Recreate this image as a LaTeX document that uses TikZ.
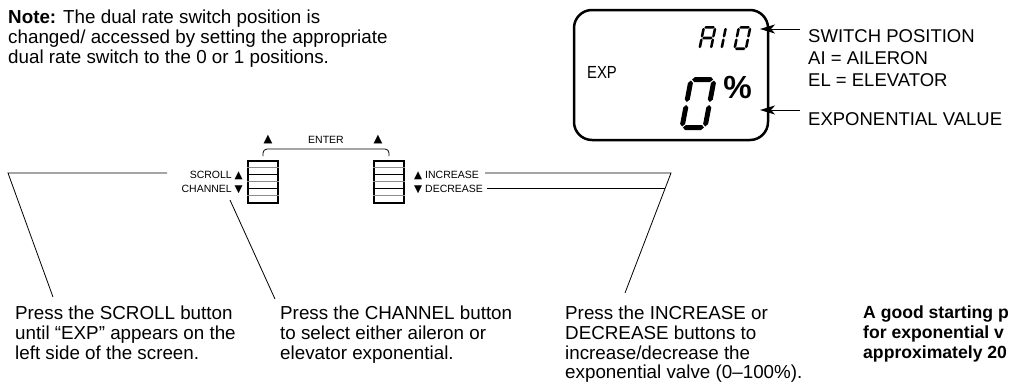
\documentclass[tikz,border=0pt]{standalone}
\usepackage{fontspec}
\usepackage{graphicx}
\setmainfont{Liberation Sans}
\newfontfamily\symfont{DejaVu Sans}
\usetikzlibrary{arrows.meta,calc}

\newcommand\segH[4]{\path[seg] (#1,#3) -- (#1+#4/2,#3-#4/2) -- (#2-#4/2,#3-#4/2) -- (#2,#3) -- (#2-#4/2,#3+#4/2) -- (#1+#4/2,#3+#4/2) -- cycle;}
\newcommand\segV[4]{\path[seg] (#3,#1) -- (#3+#4/2,#1+#4/2) -- (#3+#4/2,#2-#4/2) -- (#3,#2) -- (#3-#4/2,#2-#4/2) -- (#3-#4/2,#1+#4/2) -- cycle;}
\newcommand\uptri{{\symfont\fontsize{10.5}{10.5}\selectfont ▲}}
\newcommand\dntri{{\symfont\fontsize{10.5}{10.5}\selectfont ▼}}

\begin{document}
\begin{tikzpicture}[x=1pt,y=-1pt,
  body/.style={inner sep=0pt, align=left, anchor=north west, font=\fontsize{18.8}{19.7}\selectfont},
  lcdtxt/.style={inner sep=0pt, align=left, font=\fontsize{18.5}{22}\selectfont},
  small/.style={inner sep=0pt, font=\fontsize{10.5}{12}\selectfont},
  leader/.style={line width=0.8pt, draw=black},
  btn/.style={draw, line width=2pt, minimum width=30pt, minimum height=42pt, inner sep=0pt},
  ptr/.style={line width=1pt, -{Stealth[length=15pt,width=9pt,inset=4pt]}},
  seg/.style={fill=black},
]
\useasboundingbox (0,0) rectangle (1009,388);

% note
\node[body] (note) at (8,10) {\textbf{Note:} The dual rate switch position is\\changed/ accessed by setting the appropriate\\dual rate switch to the 0 or 1 positions.};

% LCD
\node[draw, line width=2.5pt, rounded corners=18pt, minimum width=194pt, minimum height=130pt, inner sep=0pt] (lcd) at (671,75) {};
\node[inner sep=0pt, font=\fontsize{17.5}{17.5}\selectfont] (exp) at (602,72) {\scalebox{0.85}[1]{EXP}};
\node[inner sep=0pt, font=\fontsize{32}{32}\selectfont] (pct) at (737.5,87) {\textbf{\%}};

% big 0
\begin{scope}[shift={(679,130)}, xslant=0.19]
  \segH{3.5}{24.5}{-2.5}{5}
  \segH{3.5}{24.5}{-50.5}{5}
  \segV{-25}{-3.5}{2.5}{5}
  \segV{-49.5}{-28}{2.5}{5}
  \segV{-25}{-3.5}{25.5}{5}
  \segV{-49.5}{-28}{25.5}{5}
\end{scope}
% small A
\begin{scope}[shift={(698,50)}, xslant=0.2]
  \segH{1.8}{12.2}{-22.7}{2.6}
  \segH{1.8}{12.2}{-12}{2.6}
  \segV{-22.2}{-12.5}{1.3}{2.6}
  \segV{-11.5}{-1.8}{1.3}{2.6}
  \segV{-22.2}{-12.5}{12.7}{2.6}
  \segV{-11.5}{-1.8}{12.7}{2.6}
\end{scope}
% small I
\begin{scope}[shift={(720,50)}, xslant=0.2]
  \segV{-22.2}{-12.5}{1.3}{2.6}
  \segV{-11.5}{-1.8}{1.3}{2.6}
\end{scope}
% small 0
\begin{scope}[shift={(733,50)}, xslant=0.2]
  \segH{1.8}{12.2}{-22.7}{2.6}
  \segH{1.8}{12.2}{-1.3}{2.6}
  \segV{-22.2}{-12.5}{1.3}{2.6}
  \segV{-11.5}{-1.8}{1.3}{2.6}
  \segV{-22.2}{-12.5}{12.7}{2.6}
  \segV{-11.5}{-1.8}{12.7}{2.6}
\end{scope}

% LCD labels and pointers
\node[lcdtxt, anchor=north west] (swpos) at (808,29) {SWITCH POSITION\\AI = AILERON\\EL = ELEVATOR};
\node[lcdtxt, anchor=base west] (expval) at (808,125) {EXPONENTIAL VALUE};
\coordinate (p1s) at (800,29);
\coordinate (p1e) at (760,29);
\coordinate (p2s) at (800,110);
\coordinate (p2e) at (760,110);
\draw[ptr] (p1s) -- (p1e);
\draw[ptr] (p2s) -- (p2e);

% buttons
\node[btn] (lbtn) at (263,182) {};
\node[btn] (rbtn) at (389,182) {};
\foreach \b in {lbtn,rbtn}{
  \foreach \k/\c in {1/black!45,2/black,3/black!45,4/black,5/black!45}{
    \draw[line width=0.8pt, draw=\c] ([yshift=-7*\k pt]\b.north west) -- ([yshift=-7*\k pt]\b.north east);
  }
}
% enter bracket
\coordinate (brk) at (326,149);
\draw[line width=0.8pt, rounded corners=4pt] ([yshift=4pt]lbtn.north) |- (brk) -| ([yshift=4pt]rbtn.north);
\node[inner sep=0pt, font=\symfont\fontsize{11.5}{11.5}\selectfont] (ta1) at (268,140) {▲};
\node[inner sep=0pt, font=\symfont\fontsize{11.5}{11.5}\selectfont] (ta2) at (378,140) {▲};
\node[small] (enter) at (326,140) {ENTER};

% button labels
\node[small, anchor=east] (scroll) at (243,175) {SCROLL \uptri};
\node[small, anchor=east] (channel) at (243,189) {CHANNEL \dntri};
\node[small, anchor=west] (incr) at (414,175) {\uptri{} INCREASE};
\node[small, anchor=west] (decr) at (414,189) {\dntri{} DECREASE};

% bottom texts
\node[body] (t1) at (15,306) {Press the SCROLL button\\until “EXP” appears on the\\left side of the screen.};
\node[body] (t2) at (280,306) {Press the CHANNEL button\\to select either aileron or\\elevator exponential.};
\node[body] (t3) at (565,306) {Press the INCREASE or\\DECREASE buttons to\\increase/decrease the\\exponential valve (0–100\%).};
\node[body, font=\bfseries\fontsize{17.6}{19.7}\selectfont] (t4) at (863,306) {A good starting p\\for exponential v\\approximately 20};

% leader lines
\coordinate (a1) at (167,173);
\coordinate (a2) at (8,173);
\coordinate (a3) at (53,297);
\draw[leader] (a1) -- (a2) -- (a3);
\coordinate (b1) at (230,200);
\coordinate (b2) at (275,299);
\draw[leader] (b1) -- (b2);
\coordinate (c1) at (485,173);
\coordinate (c2) at (671,173);
\coordinate (c3) at (625,293);
\draw[leader] (c1) -- (c2) -- (c3);
\coordinate (d1) at (487,188);
\coordinate (d2) at (665,188);
\draw[leader] (d1) -- (d2);
\end{tikzpicture}
\end{document}
